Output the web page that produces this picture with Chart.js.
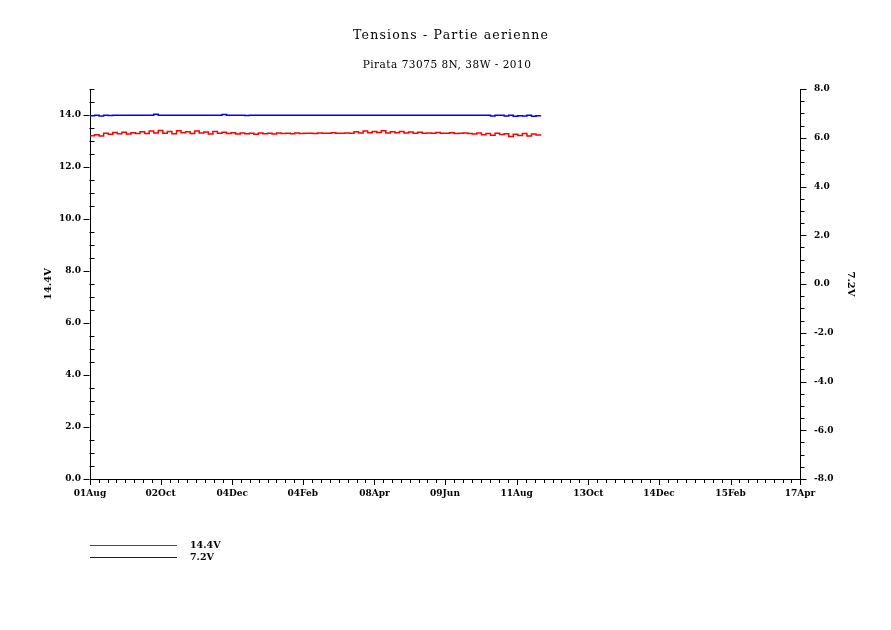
<!DOCTYPE html>
<html>
<head>
<meta charset="utf-8">
<script src="https://cdn.jsdelivr.net/npm/chart.js@4/dist/chart.umd.min.js"></script>
<style>
  body { margin: 0; background: #fff; }
  canvas { display: block; }
</style>
</head>
<body>
<canvas id="chart" width="891" height="630"></canvas>
<script>
// x is days since 01Aug (2009), one sample every 4 days
const sampleStep = 4;
const xTickDays = [0, 62, 125, 187, 250, 312, 375, 438, 500, 563, 624];
const xTickLabels = ["01Aug", "02Oct", "04Dec", "04Feb", "08Apr", "09Jun", "11Aug", "13Oct", "14Dec", "15Feb", "17Apr"];
const leftTicks = [0, 2, 4, 6, 8, 10, 12, 14];
const rightTicks = [-8, -6, -4, -2, 0, 2, 4, 6, 8];

// 14.4V battery (left axis)
const volts144 = [
  13.20, 13.24, 13.19,
  13.30, 13.26, 13.33, 13.28, 13.34, 13.27, 13.32, 13.29,
  13.36, 13.29, 13.38, 13.31, 13.40, 13.30, 13.37, 13.28, 13.39, 13.32,
  13.36, 13.29, 13.38, 13.31, 13.35, 13.27, 13.37, 13.30, 13.34, 13.29,
  13.32, 13.27, 13.31, 13.28, 13.30, 13.26, 13.31, 13.28, 13.30, 13.27,
  13.31, 13.29, 13.30, 13.28, 13.31, 13.29,
  13.30, 13.30, 13.29, 13.31, 13.30, 13.30, 13.32, 13.30, 13.30, 13.31, 13.30,
  13.36, 13.31, 13.38, 13.32, 13.37, 13.33, 13.39, 13.31, 13.36, 13.32,
  13.37, 13.31, 13.35, 13.30, 13.34,
  13.30, 13.31, 13.30, 13.33, 13.30, 13.30, 13.32, 13.29, 13.30, 13.31, 13.29,
  13.27, 13.31, 13.24, 13.29, 13.22, 13.30, 13.25, 13.28, 13.17, 13.26,
  13.21, 13.29, 13.19, 13.27, 13.23, 13.26
];

// 7.2V battery (right axis)
const volts72 = [
  6.90, 6.92, 6.89, 6.92, 6.91, 6.92, 6.92, 6.92, 6.92, 6.92,
  6.92, 6.92, 6.92, 6.92, 6.96, 6.92, 6.92, 6.92, 6.92, 6.92,
  6.92, 6.92, 6.92, 6.92, 6.92, 6.92, 6.92, 6.92, 6.92, 6.95,
  6.92, 6.92, 6.92, 6.92, 6.91, 6.92, 6.92, 6.92, 6.92, 6.92,
  6.92, 6.92, 6.92, 6.92, 6.92, 6.92, 6.92, 6.92, 6.92, 6.92,
  6.92, 6.92, 6.92, 6.92, 6.92, 6.92, 6.92, 6.92, 6.92, 6.92,
  6.92, 6.92, 6.92, 6.92, 6.92, 6.92, 6.92, 6.92, 6.92, 6.92,
  6.92, 6.92, 6.92, 6.92, 6.92, 6.92, 6.92, 6.92, 6.92, 6.92,
  6.92, 6.92, 6.92, 6.92, 6.92, 6.92, 6.92, 6.92, 6.89, 6.92,
  6.92, 6.89, 6.92, 6.88, 6.90, 6.89, 6.92, 6.88, 6.90, 6.91
];

const tickFont = { family: "DejaVu Serif", size: 9, weight: "bold" };

function px(v) { return Math.round(v) + 0.5; }

// titles, axis names, legend and the minor/major tick marks
const decor = {
  id: "decor",
  afterDraw(chart) {
    const { ctx, chartArea: a, scales } = chart;
    ctx.save();
    ctx.fillStyle = "#000";
    ctx.strokeStyle = "#000";
    ctx.lineWidth = 1;
    ctx.textAlign = "center";
    ctx.textBaseline = "middle";

    ctx.letterSpacing = "1.2px";
    ctx.font = "12.5px 'DejaVu Serif'";
    ctx.fillText("Tensions - Partie aerienne", 451, 36);
    ctx.letterSpacing = "0.5px";
    ctx.font = "10.5px 'DejaVu Serif'";
    ctx.fillText("Pirata 73075 8N, 38W - 2010", 447, 65);
    ctx.letterSpacing = "0px";

    ctx.font = "bold 10px 'DejaVu Serif'";
    ctx.save();
    ctx.translate(48, (a.top + a.bottom) / 2);
    ctx.rotate(-Math.PI / 2);
    ctx.fillText("14.4V", 0, 0);
    ctx.restore();
    ctx.save();
    ctx.translate(851, (a.top + a.bottom) / 2);
    ctx.rotate(Math.PI / 2);
    ctx.fillText("7.2V", 0, 0);
    ctx.restore();

    ctx.beginPath();
    // x axis
    const sx = scales.x;
    xTickDays.forEach((d, i) => {
      const x = px(sx.getPixelForValue(d));
      ctx.moveTo(x, a.bottom); ctx.lineTo(x, a.bottom + 6);
      if (i < xTickDays.length - 1) {
        const next = xTickDays[i + 1];
        for (let k = 1; k < 8; k++) {
          const xm = px(sx.getPixelForValue(d + (next - d) * k / 8));
          ctx.moveTo(xm, a.bottom); ctx.lineTo(xm, a.bottom + 4);
        }
      }
    });
    // left axis
    const sy = scales.y;
    const xl = px(a.left) - 1;
    for (let v = 0; v <= 15; v += 0.5) {
      const y = px(sy.getPixelForValue(v));
      if (v % 2 === 0) { ctx.moveTo(xl - 6, y); ctx.lineTo(xl, y); }
      else { ctx.moveTo(xl, y); ctx.lineTo(xl + 5, y); }
    }
    // right axis
    const sy1 = scales.y1;
    const xr = px(a.right);
    for (let v = -8; v <= 8; v += 0.5) {
      const y = px(sy1.getPixelForValue(v));
      ctx.moveTo(xr, y); ctx.lineTo(xr + (v % 2 === 0 ? 6 : 4), y);
    }
    ctx.stroke();

    // legend
    ctx.font = "bold 9.5px 'DejaVu Serif'";
    ctx.textAlign = "left";
    chart.data.datasets.forEach((ds, i) => {
      const y = 545.5 + i * 12;
      ctx.strokeStyle = ds.borderColor;
      ctx.beginPath();
      ctx.moveTo(90, y); ctx.lineTo(177, y);
      ctx.stroke();
      ctx.fillText(ds.label, 190, y);
    });
    ctx.restore();
  }
};

new Chart(document.getElementById("chart"), {
  type: "line",
  data: {
    datasets: [
      {
        label: "14.4V",
        data: volts144.map((v, i) => ({ x: i * sampleStep, y: v })),
        borderColor: "#ff0000",
        borderWidth: 1.5,
        pointRadius: 0,
        stepped: true,
        yAxisID: "y"
      },
      {
        label: "7.2V",
        data: volts72.map((v, i) => ({ x: i * sampleStep, y: v })),
        borderColor: "#0000ff",
        borderWidth: 1.5,
        pointRadius: 0,
        stepped: true,
        yAxisID: "y1"
      }
    ]
  },
  options: {
    responsive: false,
    animation: false,
    devicePixelRatio: 1,
    layout: { padding: { top: 89, bottom: 121, left: 0, right: 0 } },
    plugins: {
      legend: { display: false },
      tooltip: { enabled: false }
    },
    scales: {
      x: {
        type: "linear",
        min: 0,
        max: 624,
        afterBuildTicks: s => { s.ticks = xTickDays.map(v => ({ value: v })); },
        afterFit: s => { s.height = 30; },
        grid: { display: false, drawTicks: false },
        border: { display: true, color: "#000", width: 1 },
        ticks: {
          autoSkip: false,
          maxRotation: 0,
          padding: 9,
          color: "#000",
          font: tickFont,
          callback: (v, i) => xTickLabels[i]
        }
      },
      y: {
        position: "left",
        min: 0,
        max: 15,
        afterBuildTicks: s => { s.ticks = leftTicks.map(v => ({ value: v })); },
        afterFit: s => { s.width = 90; },
        grid: { display: false, drawTicks: false },
        border: { display: true, color: "#000", width: 1 },
        ticks: {
          padding: 9,
          color: "#000",
          font: tickFont,
          callback: v => v.toFixed(1)
        }
      },
      y1: {
        position: "right",
        min: -8,
        max: 8,
        afterBuildTicks: s => { s.ticks = rightTicks.map(v => ({ value: v })); },
        afterFit: s => { s.width = 91; },
        grid: { display: false, drawTicks: false },
        border: { display: true, color: "#000", width: 1 },
        ticks: {
          padding: 14,
          color: "#000",
          font: tickFont,
          callback: v => v.toFixed(1)
        }
      }
    }
  },
  plugins: [decor]
});
</script>
</body>
</html>
